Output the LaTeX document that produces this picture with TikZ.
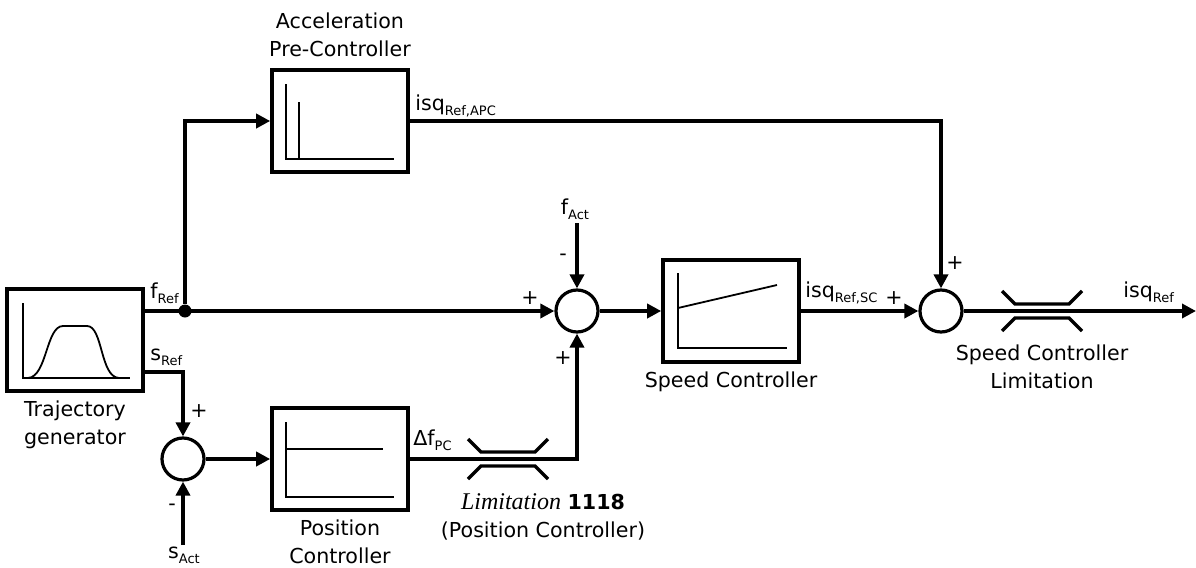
\documentclass[tikz,border=0pt]{standalone}
\usepackage{fontspec}
\setmainfont{DejaVu Sans}
\newfontfamily\limitfont{Liberation Serif}
\usetikzlibrary{arrows.meta,positioning,calc}

\newcommand{\sigsub}[2]{#1\raisebox{-2.5pt}{\fontsize{6.5}{6.5}\selectfont #2}}

\tikzset{
  block/.style={draw,line width=1.8pt,minimum width=68pt,minimum height=51pt,inner sep=0pt},
  sumpt/.style={draw,circle,line width=1.6pt,minimum size=21pt,inner sep=0pt},
  sig/.style={line width=1.8pt,-{Triangle[length=7pt,width=7pt]}},
  curve/.style={line width=.9pt},
  lim/.style={line width=1.6pt},
  lbl/.style={align=center,inner sep=0pt},
  siglbl/.style={inner sep=0pt},
  limiter/.pic={
    \draw[lim] (-40,-20) -- (-27,-7) -- (27,-7) -- (40,-20);
    \draw[lim] (-40,20) -- (-27,7) -- (27,7) -- (40,20);
  }
}

\begin{document}
\begin{tikzpicture}[x=.5pt,y=-.5pt,font=\fontsize{10.3}{14}\selectfont]
  \useasboundingbox (0,0) rectangle (1196,568);

  % blocks
  \node[block] (traj) at (75,340) {};
  \node[block] (apc) at (340,121) {};
  \node[block] (pos) at (340,459) {};
  \node[block] (speed) at (731,311) {};
  \node[sumpt] (sum1) at (577,311) {};
  \node[sumpt] (sum2) at (941,311) {};
  \node[sumpt] (sum3) at (183,459) {};
  \node[circle,fill,inner sep=0pt,minimum size=6.5pt] (fdot) at (185,311) {};
  \coordinate (fact) at (577,223);
  \coordinate (sact) at (183,545);
  \coordinate (isqout) at (1196,311);
  \coordinate (lim1) at (508,459);
  \coordinate (lim2) at (1042,311);

  % small graphs inside the blocks
  \draw[curve] (23,303) -- (23,378) -- (130,378);
  \draw[curve] (28,378) .. controls (47,377) and (46,326) .. (63,326)
    -- (87,326) .. controls (103,326) and (100,377) .. (119,378);
  \draw[curve] (286,84) -- (286,159) -- (394,159);
  \draw[curve] (299,102) -- (299,159);
  \draw[curve] (286,422) -- (286,497) -- (394,497);
  \draw[curve] (286,449) -- (383,449);
  \draw[curve] (678,273) -- (678,348) -- (787,348);
  \draw[curve] (678,308) -- (777,285);

  % signals
  \draw[sig] (traj.east |- fdot) -- (sum1.west);
  \draw[sig] (fdot) |- (apc.west);
  \draw[sig] (apc.east) -| (sum2.north);
  \draw[sig] (sum1.east) -- (speed.west);
  \draw[sig] (speed.east) -- (sum2.west);
  \draw[sig] (sum2.east) -- (isqout);
  \draw[sig] ($(traj.east)+(0,32)$) -| (sum3.north);
  \draw[sig] (sact) -- (sum3.south);
  \draw[sig] (sum3.east) -- (pos.west);
  \draw[sig] (pos.east) -| (sum1.south);
  \draw[sig] (fact) -- (sum1.north);

  \pic at (lim1) {limiter};
  \pic at (lim2) {limiter};

  % block labels
  \node[lbl,above=5.6pt of apc] {Acceleration\\Pre-Controller};
  \node[lbl,below=4pt of traj] {Trajectory\\generator};
  \node[lbl,below=4pt of pos] {Position\\Controller};
  \node[lbl,below=4pt of speed] {Speed Controller};
  \node[lbl,below=16.5pt of lim2] {Speed Controller\\Limitation};
  \node[lbl,anchor=north] at (543,493)
    {{\limitfont\fontsize{12}{14}\selectfont\itshape Limitation} \textbf{1118}\\(Position Controller)};

  % signal labels
  \node[siglbl,anchor=base west] at (150,298) {\sigsub{f}{Ref}};
  \node[siglbl,anchor=base west] at (150,360) {\sigsub{s}{Ref}};
  \node[siglbl,anchor=base west] at (415,110) {\sigsub{isq}{Ref,APC}};
  \node[siglbl,anchor=base] at (575,214) {\sigsub{f}{Act}};
  \node[siglbl,anchor=base west] at (805,297) {\sigsub{isq}{Ref,SC}};
  \node[siglbl,anchor=base west] at (1123,297) {\sigsub{isq}{Ref}};
  \node[siglbl,anchor=base west] at (413,445) {\sigsub{Δf}{PC}};
  \node[siglbl,anchor=base] at (184,558) {\sigsub{s}{Act}};

  % signs
  \node at (199,411) {+};
  \node at (172,507) {-};
  \node at (530,298) {+};
  \node at (563,257) {-};
  \node at (563,358) {+};
  \node at (894,298) {+};
  \node at (955,263) {+};
\end{tikzpicture}
\end{document}
